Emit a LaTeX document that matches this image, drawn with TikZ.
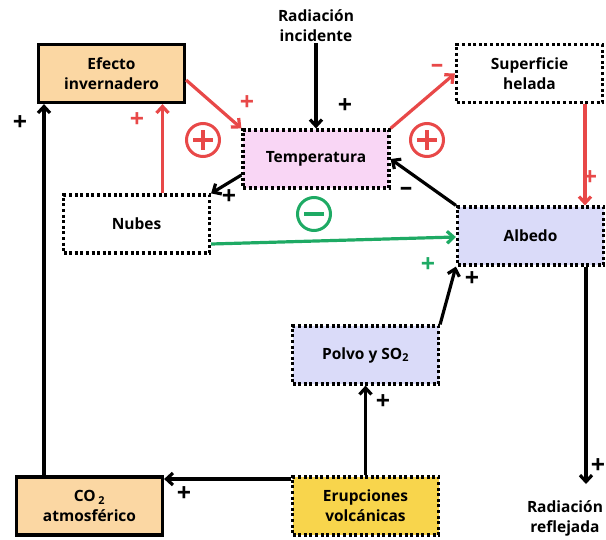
\documentclass[tikz,border=0pt]{standalone}
\usepackage{fontspec}
\setmainfont{Open Sans}
\usetikzlibrary{arrows.meta}

\definecolor{loopred}{RGB}{232,72,72}
\definecolor{loopgreen}{RGB}{30,170,100}
\definecolor{peach}{RGB}{251,215,163}
\definecolor{pinkfill}{RGB}{249,214,245}
\definecolor{lavender}{RGB}{218,219,249}
\definecolor{volcyellow}{RGB}{248,213,76}

\tikzset{
  box/.style={rectangle, minimum width=146pt, minimum height=58pt, align=center, line width=3.2pt, draw=black},
  dotbox/.style={box, dash pattern=on 3pt off 2.6pt},
  link/.style={line width=3.2pt, -{Straight Barb[length=6.5pt,width=12pt]}},
  sign/.style={font=\bfseries\fontsize{25}{25}\selectfont, inner sep=0pt},
  loopsign/.style={circle, draw=#1, line width=3pt, minimum size=33pt, inner sep=0pt},
  loopplus/.style={loopsign=#1, path picture={
      \draw[#1, line width=3.8pt] ([xshift=-10pt]path picture bounding box.center) -- ([xshift=10pt]path picture bounding box.center);
      \draw[#1, line width=3.8pt] ([yshift=-10pt]path picture bounding box.center) -- ([yshift=10pt]path picture bounding box.center);}},
  loopminus/.style={loopsign=#1, path picture={
      \draw[#1, line width=3.8pt] ([xshift=-10pt]path picture bounding box.center) -- ([xshift=10pt]path picture bounding box.center);}}
}

\begin{document}
\begin{tikzpicture}[x=1pt, y=-1pt, font=\bfseries\fontsize{15.5}{20}\selectfont]
    \useasboundingbox (0,0) rectangle (606,539);

    % Boxes
    \node[box, fill=peach] (efecto) at (111.5,73.5) {Efecto\\invernadero};
    \node[dotbox, fill=pinkfill] (temp) at (316,159) {Temperatura};
    \node[dotbox, fill=white] (helada) at (529.5,73.5) {Superficie\\helada};
    \node[dotbox, fill=white] (nubes) at (136.5,224) {Nubes};
    \node[dotbox, fill=lavender] (albedo) at (530.5,236) {Albedo};
    \node[dotbox, fill=lavender] (polvo) at (365.5,355) {Polvo y SO\textsubscript{2}};
    \node[box, fill=peach] (co2) at (89.5,506) {CO\,\textsubscript{2}\\atmosférico};
    \node[dotbox, fill=volcyellow] (erup) at (365.5,506) {Erupciones\\volcánicas};

    % Outside texts
    \node[align=center, inner sep=1pt] (incid) at (316,26) {Radiación\\incidente};
    \node[anchor=north, align=center, inner sep=0pt] (refl) at (565,500) {Radiación\\reflejada};

    % Helper points
    \coordinate (nubtop) at ([xshift=26pt]nubes.north);
    \coordinate (heladabot) at ([xshift=55.5pt]helada.south);
    \coordinate (albbot) at ([xshift=55.5pt]albedo.south);
    \coordinate (co2top) at ([xshift=-45.5pt]co2.north);
    \coordinate (erupleft) at ([yshift=27pt]erup.west);

    % Red links
    \draw[link, loopred] ([yshift=-6.5pt]efecto.east) -- (temp.north west);
    \draw[link, loopred] (nubtop) -- (nubtop |- efecto.south);
    \draw[link, loopred] (temp.north east) -- (helada.west);
    \draw[link, loopred] (heladabot) -- (heladabot |- albedo.north);

    % Black links
    \draw[link] (incid.south) -- (temp.north);
    \draw[link] (albedo.north west) -- (temp.east);
    \draw[link] ([yshift=-16pt]temp.west) -- (nubes.north east);
    \draw[link] (polvo.north east) -- (albedo.south west);
    \draw[link] (erup.north) -- (polvo.south);
    \draw[link] (erupleft) -- (erupleft -| co2.east);
    \draw[link] (co2top) -- (co2top |- efecto.south);
    \draw[link] (albbot) -- ([yshift=16pt]albbot |- refl.north);

    % Green link
    \draw[link, loopgreen] ([yshift=-20pt]nubes.east) -- ([yshift=-1pt]albedo.west);

    % Signs
    \node[sign, loopred] (s1) at (247,103) {+};
    \node[sign, loopred] (s2) at (137,120) {+};
    \node[sign, loopred] (s3) at (437,68) {–};
    \node[sign, loopred] (s4) at (590,178) {+};
    \node[sign] (s5) at (345,106) {+};
    \node[sign] (s6) at (406,191) {–};
    \node[sign] (s7) at (229,197) {+};
    \node[sign, loopgreen] (s8) at (428,265) {+};
    \node[sign] (s9) at (472,279) {+};
    \node[sign] (s10) at (383,402) {+};
    \node[sign] (s11) at (184,494) {+};
    \node[sign] (s12) at (20,123) {+};
    \node[sign] (s13) at (598,466) {+};

    % Loop symbols
    \node[loopplus=loopred] (loopA) at (203,140) {};
    \node[loopplus=loopred] (loopB) at (427,140) {};
    \node[loopminus=loopgreen] (loopC) at (314,214) {};
\end{tikzpicture}
\end{document}
